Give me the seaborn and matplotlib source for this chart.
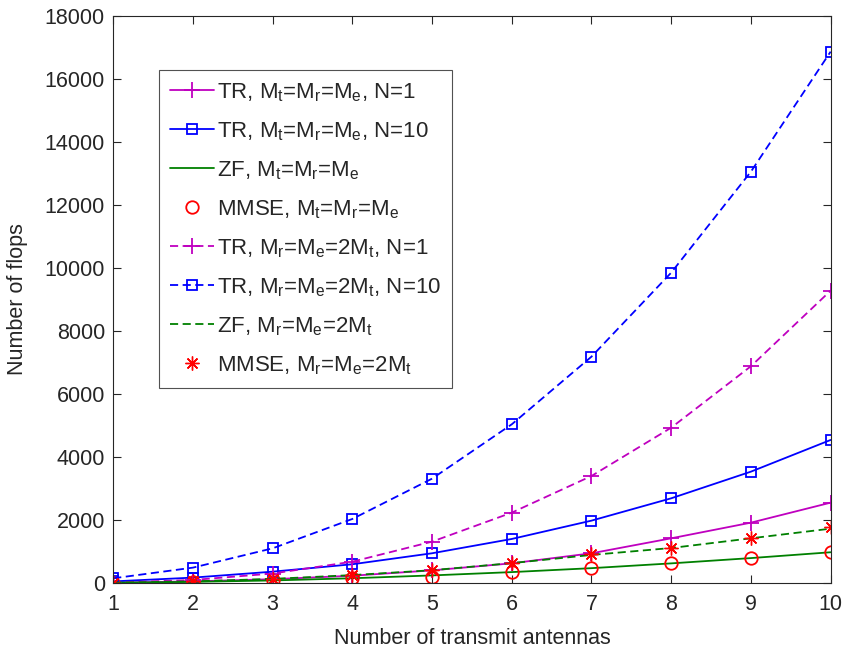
import numpy as np
import pandas as pd
import matplotlib
matplotlib.use('Agg')
import matplotlib.pyplot as plt
import seaborn as sns

# Dados
antenas = [1, 2, 3, 4, 5, 6, 7, 8, 9, 10]
tr_n1 = [10, 50, 120, 230, 400, 624, 942, 1418, 1915, 2550]
tr_n10 = [50, 170, 359, 594, 943, 1397, 1979, 2688, 3534, 4540]
zf = [8, 35, 80, 150, 240, 345, 470, 622, 790, 975]
mmse = [5, 30, 80, 148, 200, 339, 466, 624, 783, 975]
tr2_n1 = [12, 95, 300, 676, 1312, 2233, 3397, 4930, 6880, 9280]
tr2_n10 = [148, 487, 1100, 2032, 3312, 5037, 7185, 9851, 13057, 16867]
zf2 = [12, 50, 130, 250, 405, 630, 890, 1110, 1418, 1724]
mmse2 = [10, 50, 130, 254, 413, 646, 910, 1122, 1439, 1767]

rotulos = [
    r'TR, M$_\mathregular{t}$=M$_\mathregular{r}$=M$_\mathregular{e}$, N=1',
    r'TR, M$_\mathregular{t}$=M$_\mathregular{r}$=M$_\mathregular{e}$, N=10',
    r'ZF, M$_\mathregular{t}$=M$_\mathregular{r}$=M$_\mathregular{e}$',
    r'MMSE, M$_\mathregular{t}$=M$_\mathregular{r}$=M$_\mathregular{e}$',
    r'TR, M$_\mathregular{r}$=M$_\mathregular{e}$=2M$_\mathregular{t}$, N=1',
    r'TR, M$_\mathregular{r}$=M$_\mathregular{e}$=2M$_\mathregular{t}$, N=10',
    r'ZF, M$_\mathregular{r}$=M$_\mathregular{e}$=2M$_\mathregular{t}$',
    r'MMSE, M$_\mathregular{r}$=M$_\mathregular{e}$=2M$_\mathregular{t}$',
]

sns.set_style('white')
plt.rcParams['font.family'] = ['Liberation Sans', 'DejaVu Sans']
plt.rcParams['mathtext.fontset'] = 'custom'
plt.rcParams['mathtext.rm'] = 'Liberation Sans'

magenta = (0.75, 0, 0.75)
azul = (0, 0, 1)
verde = (0, 0.5, 0)
vermelho = (1, 0, 0)
tracejado = (4.5, 2.5)
estrela = (8, 2, 0)

# (valores, cor, estilo de linha, marcador, tamanho)
series = [
    (tr_n1, magenta, '-', '+', 11),
    (tr_n10, azul, '-', 's', 7),
    (zf, verde, '-', None, 0),
    (mmse, vermelho, 'none', 'o', 9),
    (tr2_n1, magenta, '--', '+', 11),
    (tr2_n10, azul, '--', 's', 7),
    (zf2, verde, '--', None, 0),
    (mmse2, vermelho, 'none', estrela, 10),
]

fig = plt.figure(figsize=(8.45, 6.51), dpi=100)
ax = fig.add_axes([0.134, 0.1045, 0.849, 0.871])

for (valores, cor, estilo, marcador, tam), rotulo in zip(series, rotulos):
    df = pd.DataFrame({'x': antenas, 'y': valores})
    kw = dict(color=cor, marker=marcador, markersize=tam,
              markeredgewidth=1.0 if marcador == estrela else 1.3,
              markerfacecolor='none', markeredgecolor=cor, linewidth=1.3, label=rotulo)
    if estilo == 'none':
        kw['linestyle'] = 'none'
    elif estilo == '--':
        kw['dashes'] = tracejado
    sns.lineplot(data=df, x='x', y='y', ax=ax, **kw)

ax.set_xlim(1, 10)
ax.set_ylim(0, 18000)
ax.set_xticks(range(1, 11))
ax.set_yticks(range(0, 18001, 2000))
ax.set_xlabel('Number of transmit antennas', fontsize=15.5, color='0.15', labelpad=9)
ax.set_ylabel('Number of flops', fontsize=15.5, color='0.15', labelpad=12)
ax.tick_params(direction='in', length=6, width=0.8, labelsize=15.5, colors='0.15',
               top=True, right=True, bottom=True, left=True)
ax.tick_params(axis='x', pad=8)
ax.tick_params(axis='y', pad=6)
for lado in ax.spines.values():
    lado.set_color('0.15')
    lado.set_linewidth(0.8)

leg = ax.legend(loc='upper left', bbox_to_anchor=(0.064, 0.905), fontsize=16,
                handlelength=1.95, handletextpad=0.15, labelspacing=0.74,
                borderpad=0.5, borderaxespad=0, frameon=True, fancybox=False)
leg.get_frame().set_edgecolor('0.15')
leg.get_frame().set_linewidth(0.8)

fig.savefig('out.png', dpi=100)
